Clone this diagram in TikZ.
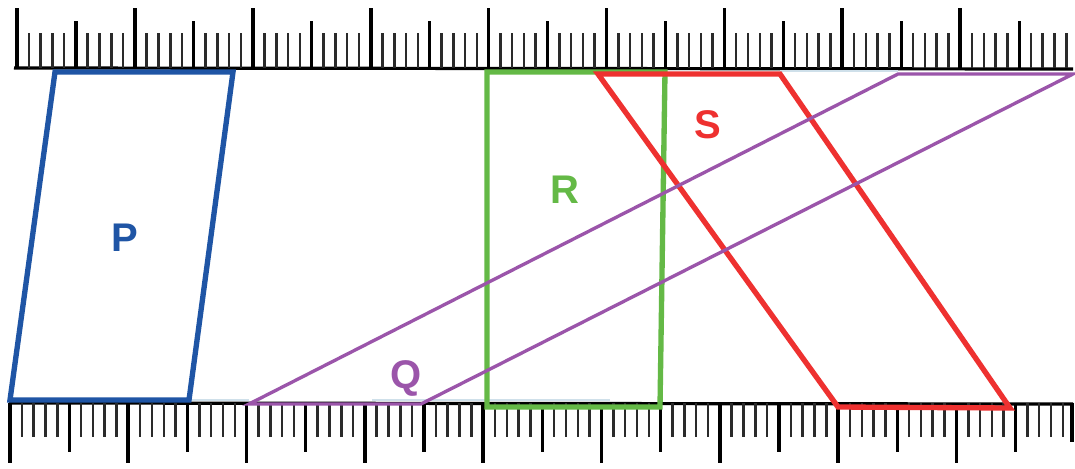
\documentclass[tikz,border=0pt]{standalone}
\usepackage{fontspec}
\setmainfont{Liberation Sans}
\definecolor{cP}{HTML}{1F55A5}
\definecolor{cR}{HTML}{64B946}
\definecolor{cS}{HTML}{EE3130}
\definecolor{cQ}{HTML}{9B55AA}
\definecolor{tick}{HTML}{2A2A2A}
\definecolor{faint}{HTML}{CFE0EA}
\tikzset{
  shapeline/.style={line width=4pt, line join=miter},
  qline/.style={line width=2.5pt, draw=cQ},
  lbl/.style={font=\bfseries\fontsize{30}{30}\selectfont, inner sep=0pt},
}
\begin{document}
\begin{tikzpicture}[x=0.75pt,y=-0.75pt]
\useasboundingbox (0,0) rectangle (1075,468);
\fill[white] (0,0) rectangle (1075,468);
% top ruler
\draw[line width=2.4pt, black] (14,68) -- (1073,69);
\foreach \i in {0,...,89}{
  \pgfmathsetmacro\xx{17+11.79*\i}
  \pgfmathtruncatemacro\mten{mod(\i,10)}
  \pgfmathtruncatemacro\mfive{mod(\i,5)}
  \ifnum\mten=0 \def\yy{8}\def\lw{2.8pt}\def\cc{black}\else\ifnum\mfive=0 \def\yy{21}\def\lw{2.4pt}\def\cc{black}\else\def\yy{33}\def\lw{1.9pt}\def\cc{tick}\fi\fi
  \draw[line width=\lw, draw=\cc] (\xx,68) -- (\xx,\yy);
}
% bottom ruler
\draw[line width=2.4pt, black] (9,403) -- (1073,404);
\foreach \i in {0,...,89}{
  \pgfmathsetmacro\xx{10+11.83*\i}
  \pgfmathtruncatemacro\mten{mod(\i,10)}
  \pgfmathtruncatemacro\mfive{mod(\i,5)}
  \ifnum\mten=0 \def\yy{463}\def\lw{2.8pt}\def\cc{black}\else\ifnum\mfive=0 \def\yy{452}\def\lw{2.4pt}\def\cc{black}\else\def\yy{437}\def\lw{1.9pt}\def\cc{tick}\fi\fi
  \draw[line width=\lw, draw=\cc] (\xx,403) -- (\xx,\yy);
}
\draw[line width=2.4pt, black] (1072,403) -- (1072,442);
% faint traces
\draw[line width=1.5pt, faint] (189,400) -- (249,400);
\draw[line width=1.5pt, faint] (372,400) -- (610,400);
\draw[line width=1.5pt, faint] (780,71) -- (898,71);
\draw[line width=1.5pt, faint] (487,71) -- (598,71);
% shapes
\draw[shapeline, draw=cP] (55,72) -- (233,72) -- (189,400) -- (10,400) -- cycle;
\draw[shapeline, draw=cR] (487,72) -- (665,72) -- (660,407) -- (487,407) -- cycle;
\draw[shapeline, draw=cS] (598,74) -- (780,74) -- (1010,408) -- (838,407) -- cycle;
\draw[qline] (249,404) -- (421,404) -- (1073,74) -- (898,74) -- cycle;
% labels
\node[lbl, text=cP] (P) at (125,238) {P};
\node[lbl, text=cR] (R) at (565,190) {R};
\node[lbl, text=cS] (S) at (708,125) {S};
\node[lbl, text=cQ] (Q) at (406,378) {Q};
\end{tikzpicture}
\end{document}
